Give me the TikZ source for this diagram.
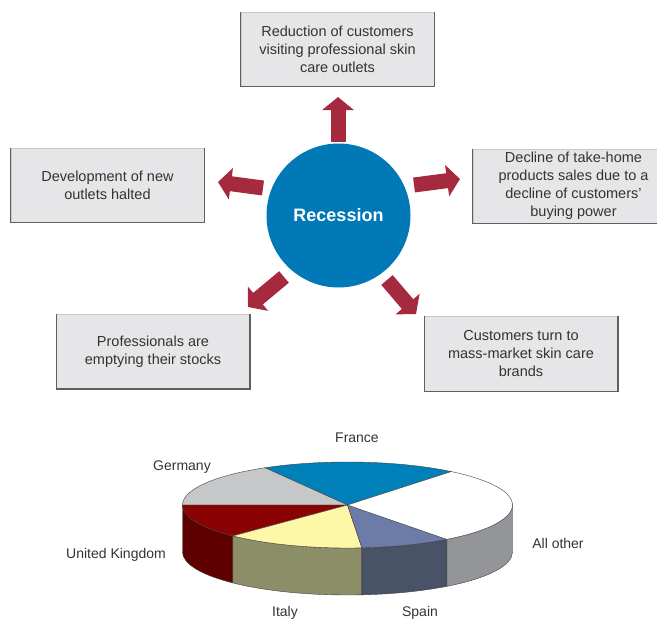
\documentclass[tikz,border=0pt]{standalone}
\usepackage{fontspec}
\setmainfont{Liberation Sans}
\usepackage{tikz}
\usetikzlibrary{arrows.meta, positioning}

\definecolor{recblue}{HTML}{0079B6}
\definecolor{arrowred}{HTML}{A52A3D}
\definecolor{boxgray}{HTML}{E6E6E8}
\definecolor{boxline}{HTML}{C9C9CB}
\definecolor{boxshade}{HTML}{5F5F5F}
\definecolor{txtgray}{HTML}{333333}
\definecolor{frtop}{HTML}{0080B9}
\definecolor{detop}{HTML}{C6C7C9}
\definecolor{uktop}{HTML}{8A0303}
\definecolor{ittop}{HTML}{FFF7A8}
\definecolor{estop}{HTML}{6C7BA8}
\definecolor{ottop}{HTML}{FFFFFF}
\definecolor{ukside}{HTML}{5E0000}
\definecolor{itside}{HTML}{8C8E68}
\definecolor{esside}{HTML}{485368}
\definecolor{otside}{HTML}{939598}

\begin{document}
\begin{tikzpicture}[x=1pt, y=-1pt,
    effect/.style={rectangle, fill=boxgray, draw=boxline, line width=0.8pt, minimum width=193pt, minimum height=74pt, inner sep=0pt, align=center, text=txtgray, font=\fontsize{14.5}{18}\selectfont},
    cause/.style={circle, fill=recblue, minimum size=144pt, inner sep=0pt, text=white, font=\fontsize{18}{20}\selectfont\bfseries},
    blockarrow/.style={draw=arrowred, line width=15pt, -{Triangle[length=13pt, width=31pt]}},
    pielabel/.style={text=txtgray, font=\fontsize{14}{16}\selectfont},
    slice/.style={draw=black!75, line width=0.4pt}]
    \useasboundingbox (0,0) rectangle (657,621);
    \clip (0,0) rectangle (657,621);

    % recession and its effects
    \node[cause] (rec) at (338.5,215.5) {Recession};
    \node[effect] (reduc) at (337.5,49) {Reduction of customers\\visiting professional skin\\care outlets};
    \node[effect] (devel) at (107.5,185) {Development of new\\outlets halted};
    \node[effect, minimum width=201pt] (decline) at (573.5,186) {Decline of take-home\\products sales due to a\\decline of customers'\\buying power};
    \node[effect] (prof) at (153,351.5) {Professionals are\\emptying their stocks};
    \node[effect, minimum height=75pt] (turn) at (521,353.5) {Customers turn to\\mass-market skin care\\brands};

    \foreach \b in {reduc, devel, decline, prof, turn}
        \draw[boxshade, line width=1.2pt] (\b.north west) -- (\b.south west) -- (\b.south east) -- (\b.north east);

    % block arrows
    \coordinate (up0) at (338,142); \coordinate (up1) at (338,97);
    \coordinate (lf0) at (263,188); \coordinate (lf1) at (218,182);
    \coordinate (rt0) at (414,185); \coordinate (rt1) at (460,179);
    \coordinate (dl0) at (284,277); \coordinate (dl1) at (248,307);
    \coordinate (dr0) at (387,280); \coordinate (dr1) at (416,314);
    \foreach \s/\e in {up0/up1, lf0/lf1, rt0/rt1, dl0/dl1, dr0/dr1}
        \draw[blockarrow] (\s) -- (\e);

    % 3d pie
    \begin{scope}[shift={(347.5,505)}, yscale=-1]
        \foreach \a/\b/\c in {180/226/ukside, 226/275/itside, 275/307/esside, 307/360/otside}
            \filldraw[slice, fill=\c] (\a:165 and 43) arc[start angle=\a, end angle=\b, x radius=165, y radius=43]
                -- ++(0,-47) arc[start angle=\b, end angle=\a, x radius=165, y radius=43] -- cycle;
        \foreach \a/\b/\c in {51/120/frtop, 120/180/detop, 180/226/uktop, 226/275/ittop, 275/307/estop, 307/411/ottop}
            \filldraw[slice, fill=\c] (0,0) -- (\a:165 and 43) arc[start angle=\a, end angle=\b, x radius=165, y radius=43] -- cycle;
    \end{scope}

    \node[pielabel] (fr) at (357,438) {France};
    \node[pielabel] (de) at (182,467) {Germany};
    \node[pielabel] (uk) at (116,555) {United Kingdom};
    \node[pielabel] (ot) at (558,543) {All other};
    \node[pielabel] (it) at (285,613) {Italy};
    \node[pielabel] (es) at (420,613) {Spain};
\end{tikzpicture}
\end{document}
